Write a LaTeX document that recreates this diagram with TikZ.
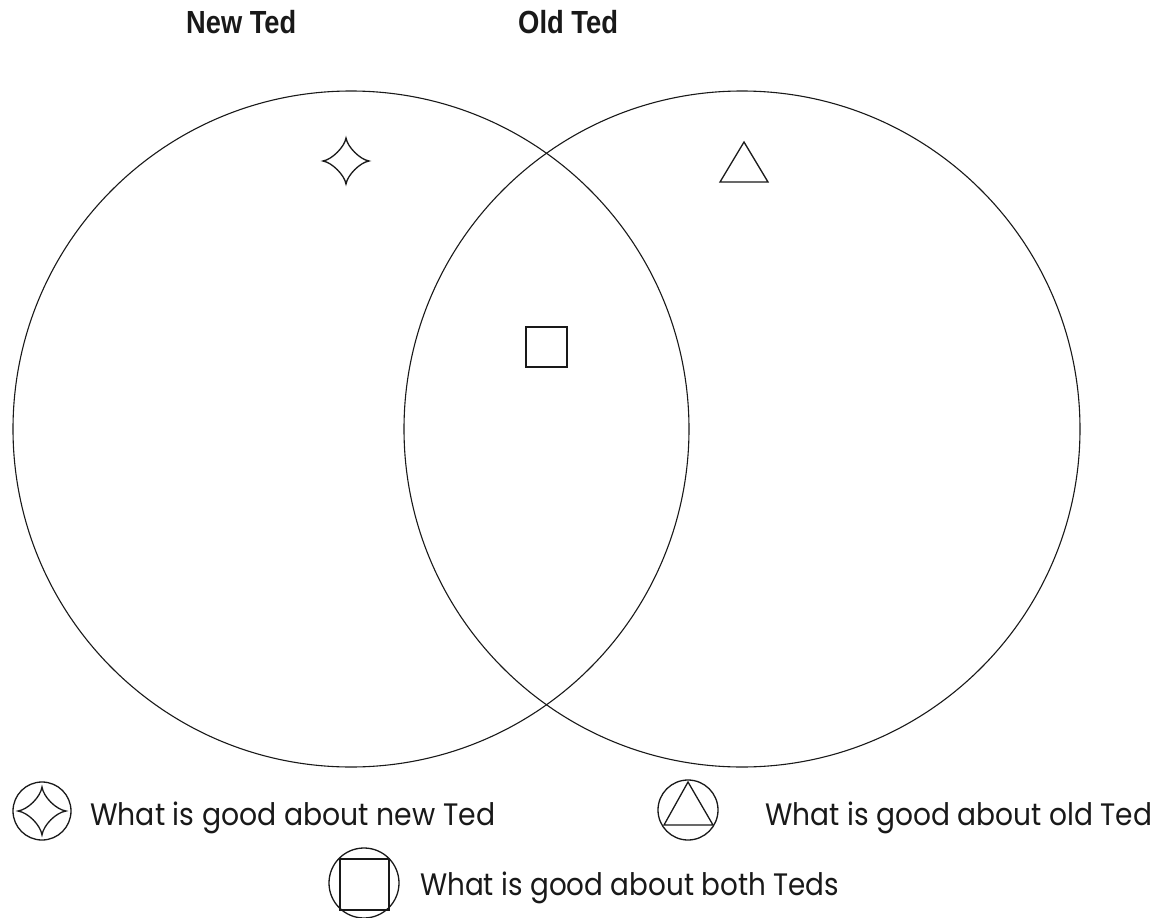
\documentclass[tikz,border=0pt]{standalone}
\usepackage{fontspec}
\usepackage{graphicx}
\setmainfont{Liberation Sans}
\newfontfamily\legendfont{Poppins}
\begin{document}
\begin{tikzpicture}[x=1pt,y=-1pt,
  venn/.style={draw=black!90, line width=1.1pt},
  sym/.style={draw=black!90, line width=1.3pt, line join=miter},
  legring/.style={draw=black!90, line width=1.3pt},
  title/.style={anchor=base west, inner sep=0pt, font=\fontsize{32}{36}\selectfont\bfseries, text=black!90},
  legtext/.style={anchor=base west, inner sep=0pt, font=\fontsize{31}{36}\legendfont, text=black!90}]
\useasboundingbox (0,0) rectangle (1165,918);

% titles
\node[title] (tnew) at (186,33) {\resizebox{110pt}{\height}{New Ted}};
\node[title] (told) at (518,33) {\resizebox{100pt}{\height}{Old Ted}};

% venn circles
\draw[venn] (351,429) circle[radius=338];
\draw[venn] (742,429) circle[radius=338];

% star symbol (new Ted)
\begin{scope}[shift={(346,161)}]
\draw[sym] (0,-23) .. controls (1.5,-14) and (14,-1.5) .. (23,0)
  .. controls (14,1.5) and (1.5,14) .. (0,23)
  .. controls (-1.5,14) and (-14,1.5) .. (-23,0)
  .. controls (-14,-1.5) and (-1.5,-14) .. cycle;
\end{scope}
% triangle symbol (old Ted)
\draw[sym] (744,142) -- (768,182) -- (720,182) -- cycle;
% square symbol (both)
\draw[sym, line width=1.6pt] (526,327) rectangle (567,367);

% legend: new Ted
\draw[legring] (42,811) circle[radius=29];
\begin{scope}[shift={(42,811)}]
\draw[sym] (0,-24) .. controls (1.5,-14) and (14,-1.5) .. (24,0)
  .. controls (14,1.5) and (1.5,14) .. (0,24)
  .. controls (-1.5,14) and (-14,1.5) .. (-24,0)
  .. controls (-14,-1.5) and (-1.5,-14) .. cycle;
\end{scope}
\node[legtext] (lnew) at (90,825) {\resizebox{405pt}{\height}{What is good about new Ted}};

% legend: old Ted
\draw[legring] (688,810) circle[radius=30];
\draw[sym] (688,782) -- (713,825) -- (664,825) -- cycle;
\node[legtext] (lold) at (765,825) {\resizebox{387pt}{\height}{What is good about old Ted}};

% legend: both
\draw[legring] (364,883) circle[radius=35];
\draw[sym, line width=2pt] (340,859) rectangle (389,910);
\node[legtext] (lboth) at (420,895) {\resizebox{419pt}{\height}{What is good about both Teds}};
\end{tikzpicture}
\end{document}
